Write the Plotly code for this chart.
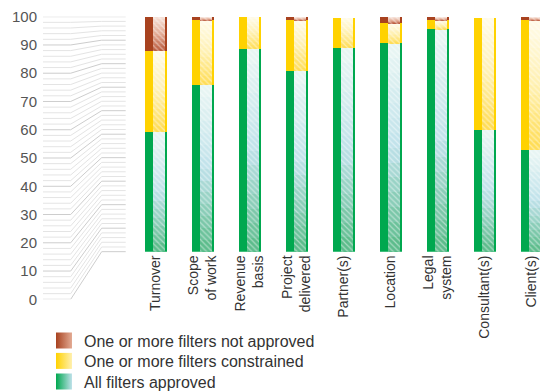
import plotly.graph_objects as go

# ---------------- data ----------------
categories = ["Turnover", "Scope of work", "Revenue basis", "Project delivered",
              "Partner(s)", "Location", "Legal system", "Consultant(s)", "Client(s)"]
tick_labels = ["Turnover", "Scope<br>of work", "Revenue<br>basis", "Project<br>delivered",
               "Partner(s)", "Location", "Legal<br>system", "Consultant(s)", "Client(s)"]
all_approved = [51.1, 70.9, 86.3, 76.9, 86.7, 88.8, 94.8, 52.1, 43.3]
constrained = [34.4, 27.7, 13.7, 21.7, 12.9, 8.5, 3.8, 47.5, 55.3]
not_approved = [14.5, 1.4, 0.0, 1.4, 0.0, 2.7, 1.4, 0.0, 1.4]
series_names = ["All filters approved", "One or more filters constrained",
                "One or more filters not approved"]
y_tick_values = list(range(0, 101, 10))
fan_values = list(range(0, 101, 2))

# ---------------- styles ----------------
FONT = "Liberation Sans, Arial, Helvetica, sans-serif"
solid_colors = ["#00a84f", "#ffd200", "#a8421f"]
light_bottom = ["#55b985", "#ffdc50", "#b9573a"]
light_mid = ["#bfe1ea", "#fff0b0", "#e3ab94"]
light_top = ["#eaf7f4", "#fffbea", "#f6e3da"]
N_BANDS = 14

BAR_W = 0.462
LIGHT_OFF = -0.061
LIGHT_W = 0.255

bar_dom = [0.3563, 0.9573]
lab_dom = [0.2345, 0.9573]


def hex2rgb(h):
    h = h.lstrip("#")
    return [int(h[i:i + 2], 16) for i in (0, 2, 4)]


def mix(c1, c2, t):
    a, b = hex2rgb(c1), hex2rgb(c2)
    return "rgb(%d,%d,%d)" % tuple(round(a[i] + (b[i] - a[i]) * t) for i in range(3))


def grad(k, t):
    if t < 0.5:
        return mix(light_bottom[k], light_mid[k], t / 0.5)
    return mix(light_mid[k], light_top[k], (t - 0.5) / 0.5)


segments = [all_approved, constrained, not_approved]
bases = [
    [0.0] * len(categories),
    list(all_approved),
    [a + c for a, c in zip(all_approved, constrained)],
]
totals = [a + c + n for a, c, n in zip(all_approved, constrained, not_approved)]

fig = go.Figure()

# fan lines (decorative mapping of the label scale to the bar scale)
fan_x = [43, 70.7, 101.7, 125.7]
def to_label_units(v):
    paper = bar_dom[0] + v / 100 * (bar_dom[1] - bar_dom[0])
    return (paper - lab_dom[0]) / (lab_dom[1] - lab_dom[0]) * 100

for major in (False, True):
    xs, ys = [], []
    for v in fan_values:
        if (v % 10 == 0) != major:
            continue
        r = to_label_units(v)
        xs += fan_x + [None]
        ys += [v, v, r, r, None]
    fig.add_trace(go.Scatter(
        x=xs, y=ys, mode="lines", xaxis="x2", yaxis="y2",
        line=dict(color="#cdcdcd" if major else "#e4e4e4", width=1),
        hoverinfo="skip", showlegend=False))

# solid bars
for k in range(3):
    fig.add_trace(go.Bar(
        x=categories, y=segments[k], base=bases[k], width=BAR_W,
        marker=dict(color=solid_colors[k], line=dict(width=0)),
        name=series_names[k], showlegend=False))

# light gradient strips
for k in range(3):
    for j in range(N_BANDS):
        t = (j + 0.5) / N_BANDS
        fig.add_trace(go.Bar(
            x=categories,
            y=[s / N_BANDS for s in segments[k]],
            base=[b + s * j / N_BANDS for b, s in zip(bases[k], segments[k])],
            width=LIGHT_W, offset=LIGHT_OFF,
            marker=dict(color=grad(k, t), line=dict(width=0)),
            hoverinfo="skip", showlegend=False))

# hatch overlay
fig.add_trace(go.Bar(
    x=categories, y=totals, base=[0] * len(categories),
    width=LIGHT_W, offset=LIGHT_OFF,
    marker=dict(color="rgba(255,255,255,0.45)", line=dict(width=0),
                pattern=dict(shape="\\", fillmode="replace", size=4, solidity=0.3)),
    hoverinfo="skip", showlegend=False))

# legend entries (one legend per row for exact spacing)
legend_ids = ["legend", "legend2", "legend3"]
legend_rows_px = [340.5, 361, 381.5]
for row, k in enumerate((2, 1, 0)):
    fig.add_trace(go.Scatter(
        x=[None], y=[None], mode="markers", name=series_names[k],
        legend=legend_ids[row],
        marker=dict(symbol="square", size=16, color=solid_colors[k],
                    gradient=dict(type="horizontal", color=light_mid[k]),
                    line=dict(width=0))))

legend_common = dict(xanchor="left", yanchor="middle", bgcolor="rgba(0,0,0,0)",
                     borderwidth=0, font=dict(family=FONT, size=16, color="#333333"))
legend_layout = {}
for lid, ypx in zip(legend_ids, legend_rows_px):
    legend_layout[lid] = dict(x=44 / 540, y=1 - ypx / 391, **legend_common)

fig.update_layout(
    width=540, height=391,
    margin=dict(l=0, r=0, t=0, b=0, pad=0, autoexpand=False),
    paper_bgcolor="white", plot_bgcolor="rgba(0,0,0,0)",
    barmode="overlay", bargap=0,
    font=dict(family=FONT, size=14, color="#333333"),
    xaxis=dict(domain=[0, 1], range=[-3.315, 8.174], type="category",
               tickmode="array", tickvals=categories, ticktext=tick_labels,
               tickangle=-90, showgrid=False, zeroline=False, showline=False,
               ticks="", automargin=False,
               tickfont=dict(family=FONT, size=14, color="#333333")),
    yaxis=dict(domain=bar_dom, range=[0, 100], visible=False, automargin=False),
    xaxis2=dict(domain=[0, 1], range=[0, 540], anchor="y2", visible=False,
                automargin=False),
    yaxis2=dict(domain=lab_dom, range=[0, 100], anchor="free", position=37 / 540,
                side="left", tickmode="array", tickvals=y_tick_values,
                showgrid=False, zeroline=False, showline=False, ticks="",
                automargin=False,
                tickfont=dict(family=FONT, size=15, color="#555555")),
    showlegend=True,
    **legend_layout,
)

fig.write_html("out.html")
